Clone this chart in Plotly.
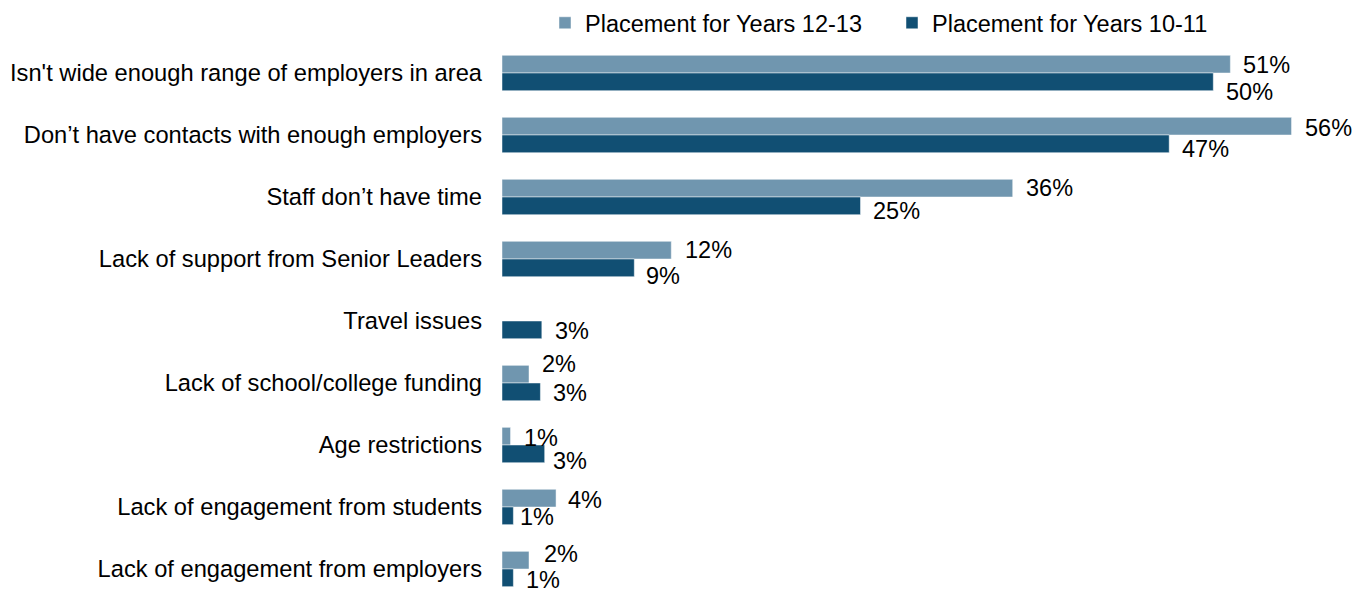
import plotly.graph_objects as go

categories = [
    "Isn't wide enough range of employers in area",
    "Don’t have contacts with enough employers",
    "Staff don’t have time",
    "Lack of support from Senior Leaders",
    "Travel issues",
    "Lack of school/college funding",
    "Age restrictions",
    "Lack of engagement from students",
    "Lack of engagement from employers",
]
years_12_13 = [51.2, 55.5, 35.9, 11.9, None, 1.9, 0.6, 3.8, 1.9]
years_10_11 = [50.0, 46.9, 25.2, 9.3, 2.8, 2.7, 3.0, 0.8, 0.8]
series_names = ["Placement for Years 12-13", "Placement for Years 10-11"]

# style
colors = ["#7096AF", "#114F73"]
FONT = "Liberation Sans, Arial, sans-serif"
FS = 23.5
# label offsets in px (gap right of bar end, downward shift from bar centre)
dx_12 = [13, 13, 13, 14, 0, 13, 13, 12, 15]
dy_12 = [1, 2, 0, 0, 0, -10, 2, 2, -6]
dx_10 = [13, 13, 12, 12, 13, 13, 8, 7, 13]
dy_10 = [10, 5, 5, 8, 1, 1, 7, 1, 2]

W, H = 1360, 584          # page body adds an 8px margin
ML, MT = 494, 34
ROW = 62.0                # px per category band
PX_PER_PCT = 14.226

bargap = 0.43
bar_w = (1 - bargap) / 2

fig = go.Figure()
for name, vals, col in zip(series_names, [years_12_13, years_10_11], colors):
    fig.add_trace(go.Bar(
        y=categories, x=vals, name=name, orientation="h",
        marker=dict(color=col, line=dict(color="rgba(255,255,255,0.6)", width=0.8)),
        hoverinfo="x+y",
    ))

annotations = []
for si, (vals, dxs, dys) in enumerate([(years_12_13, dx_12, dy_12), (years_10_11, dx_10, dy_10)]):
    off = (si - 0.5) * bar_w
    for i, v in enumerate(vals):
        if v is None:
            continue
        annotations.append(dict(
            x=v, y=i + off, xref="x", yref="y",
            text=f"{int(v + 0.5)}%", showarrow=False,
            xanchor="left", yanchor="middle",
            xshift=dxs[i] - 2, yshift=-dys[i],
            font=dict(family=FONT, size=FS, color="#000000"),
        ))

plot_h = H - MT
plot_w = W - ML
fig.update_layout(
    width=W, height=H,
    margin=dict(l=ML, r=0, t=MT, b=0, autoexpand=False),
    paper_bgcolor="white", plot_bgcolor="white",
    barmode="group", bargap=bargap, bargroupgap=0,
    font=dict(family=FONT, size=FS, color="#000000"),
    showlegend=True,
    legend=dict(
        orientation="h", xref="container", yref="container",
        x=537 / W, y=1 - 15 / H, xanchor="left", yanchor="middle",
        font=dict(family=FONT, size=FS, color="#000000"),
        entrywidth=302, entrywidthmode="pixels",
        bgcolor="rgba(0,0,0,0)", traceorder="normal",
    ),
    annotations=annotations,
    xaxis=dict(range=[0, plot_w / PX_PER_PCT], visible=False, fixedrange=True),
    yaxis=dict(
        type="category", categoryorder="array", categoryarray=categories,
        range=[-0.5 + plot_h / ROW, -0.5], ticks="", showline=False, showgrid=False,
        zeroline=False, ticklabelstandoff=19,
        tickfont=dict(family=FONT, size=23.7, color="#000000"),
    ),
)

fig.write_html("out.html")
